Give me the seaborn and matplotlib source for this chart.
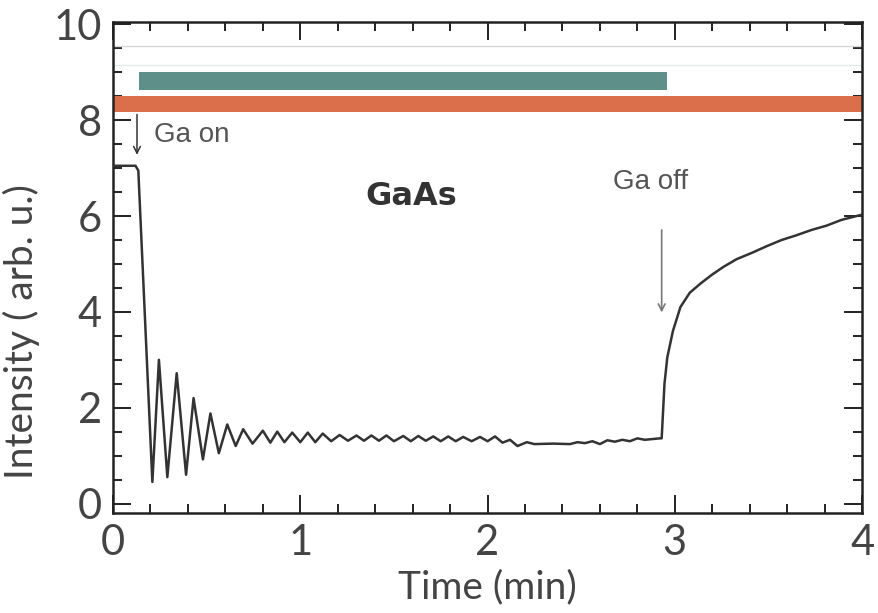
import matplotlib
matplotlib.use("Agg")
import matplotlib.pyplot as plt
import seaborn as sns
import pandas as pd

# ---- data ----
time_min = [0.00, 0.12, 0.135, 0.21, 0.245, 0.29, 0.34, 0.39, 0.43, 0.48, 0.52,
            0.565, 0.61, 0.655, 0.695, 0.745, 0.80, 0.84, 0.877, 0.915, 0.957,
            1.00, 1.04, 1.08, 1.12, 1.165, 1.21, 1.255, 1.30, 1.34, 1.38, 1.42,
            1.46, 1.50, 1.55, 1.59, 1.63, 1.67, 1.71, 1.75, 1.79, 1.83, 1.87,
            1.915, 1.96, 2.00, 2.04, 2.08, 2.12, 2.16, 2.21, 2.25, 2.35, 2.44,
            2.48, 2.52, 2.56, 2.60, 2.64, 2.68, 2.72, 2.76, 2.80, 2.84, 2.92,
            2.93, 2.945, 2.96, 2.99, 3.03, 3.08, 3.14, 3.20, 3.26, 3.33, 3.41,
            3.49, 3.57, 3.65, 3.73, 3.81, 3.89, 3.95, 4.00]
intensity = [7.05, 7.05, 6.95, 0.45, 3.00, 0.55, 2.72, 0.60, 2.20, 0.92, 1.88,
             1.05, 1.65, 1.20, 1.55, 1.25, 1.52, 1.27, 1.50, 1.28, 1.48,
             1.28, 1.48, 1.28, 1.46, 1.30, 1.43, 1.31, 1.42, 1.31, 1.42, 1.31,
             1.42, 1.30, 1.41, 1.30, 1.41, 1.31, 1.40, 1.30, 1.40, 1.30, 1.39,
             1.30, 1.39, 1.30, 1.40, 1.27, 1.33, 1.20, 1.28, 1.24, 1.25, 1.24,
             1.28, 1.26, 1.30, 1.24, 1.32, 1.29, 1.33, 1.30, 1.36, 1.33, 1.36,
             1.36, 2.50, 3.05, 3.60, 4.10, 4.40, 4.60, 4.78, 4.94, 5.10, 5.23,
             5.37, 5.50, 5.60, 5.71, 5.80, 5.92, 5.98, 6.03]

# shutter bars: (start, end, low, high)
ga_bar = [0.14, 2.96, 8.64, 9.00]
as_bar = [0.00, 4.00, 8.18, 8.50]
guide_lines = [9.55, 9.15]

x_ticks = [0, 1, 2, 3, 4]
y_ticks = [0, 2, 4, 6, 8, 10]

df = pd.DataFrame({"Time (min)": time_min, "Intensity": intensity})

sns.set_theme(style="ticks")
plt.rcParams["font.family"] = ["Lato", "DejaVu Sans"]

fig = plt.figure(figsize=(8.79, 6.13), dpi=100)
ax = fig.add_axes([0.1286, 0.163, 0.8521, 0.801])

# faint guide lines
for g, c in zip(guide_lines, ["#d8d8d8", "#e3ecee"]):
    ax.axhline(g, color=c, lw=1.0, zorder=1)

ax.fill_between([ga_bar[0], ga_bar[1]], ga_bar[2], ga_bar[3],
                color="#5e8f89", lw=0, zorder=2)
ax.fill_between([as_bar[0], as_bar[1]], as_bar[2], as_bar[3],
                color="#dc6f4b", lw=0, zorder=2)

sns.lineplot(data=df, x="Time (min)", y="Intensity", ax=ax, color="#333333",
             lw=1.8, estimator=None, sort=False, zorder=3,
             solid_joinstyle="round")

ax.set_xlim(0, 4)
ax.set_ylim(-0.2, 10.05)
ax.set_xticks(x_ticks)
ax.set_yticks(y_ticks)
ax.set_xticks([i * 0.2 for i in range(21)], minor=True)
ax.set_yticks([i * 0.5 for i in range(21)], minor=True)
ax.tick_params(which="both", direction="in", top=True, right=True,
               width=1.4, color="#222222")
ax.tick_params(which="major", length=13, labelsize=30, pad=8,
               labelcolor="#444444")
ax.tick_params(which="minor", length=6.5)
for s in ax.spines.values():
    s.set_linewidth(1.8)
    s.set_color("#222222")

ax.set_xlabel("Time (min)", fontsize=28, color="#444444", labelpad=5)
ax.set_ylabel("Intensity ( arb. u.)", fontsize=28, color="#444444")
ax.yaxis.set_label_coords(-0.098, 0.37)

# annotations
ax.annotate("", xy=(0.128, 7.22), xytext=(0.128, 8.18),
            arrowprops=dict(arrowstyle="->", color="#333333", lw=1.1,
                            mutation_scale=12))
ax.text(0.22, 7.70, "Ga on", fontsize=20, color="#555555", va="center",
        ha="left", family=["Liberation Sans", "DejaVu Sans"])
ax.text(1.59, 6.4, "GaAs", fontsize=23, fontweight="bold", color="#333333",
        va="center", ha="center", family=["DejaVu Sans"])
ax.text(2.87, 6.72, "Ga off", fontsize=20, color="#555555", va="center",
        ha="center", family=["Liberation Sans", "DejaVu Sans"])
ax.annotate("", xy=(2.93, 3.93), xytext=(2.93, 5.77),
            arrowprops=dict(arrowstyle="->", color="#777777", lw=1.2,
                            mutation_scale=12))

fig.savefig("out.png", dpi=100)
